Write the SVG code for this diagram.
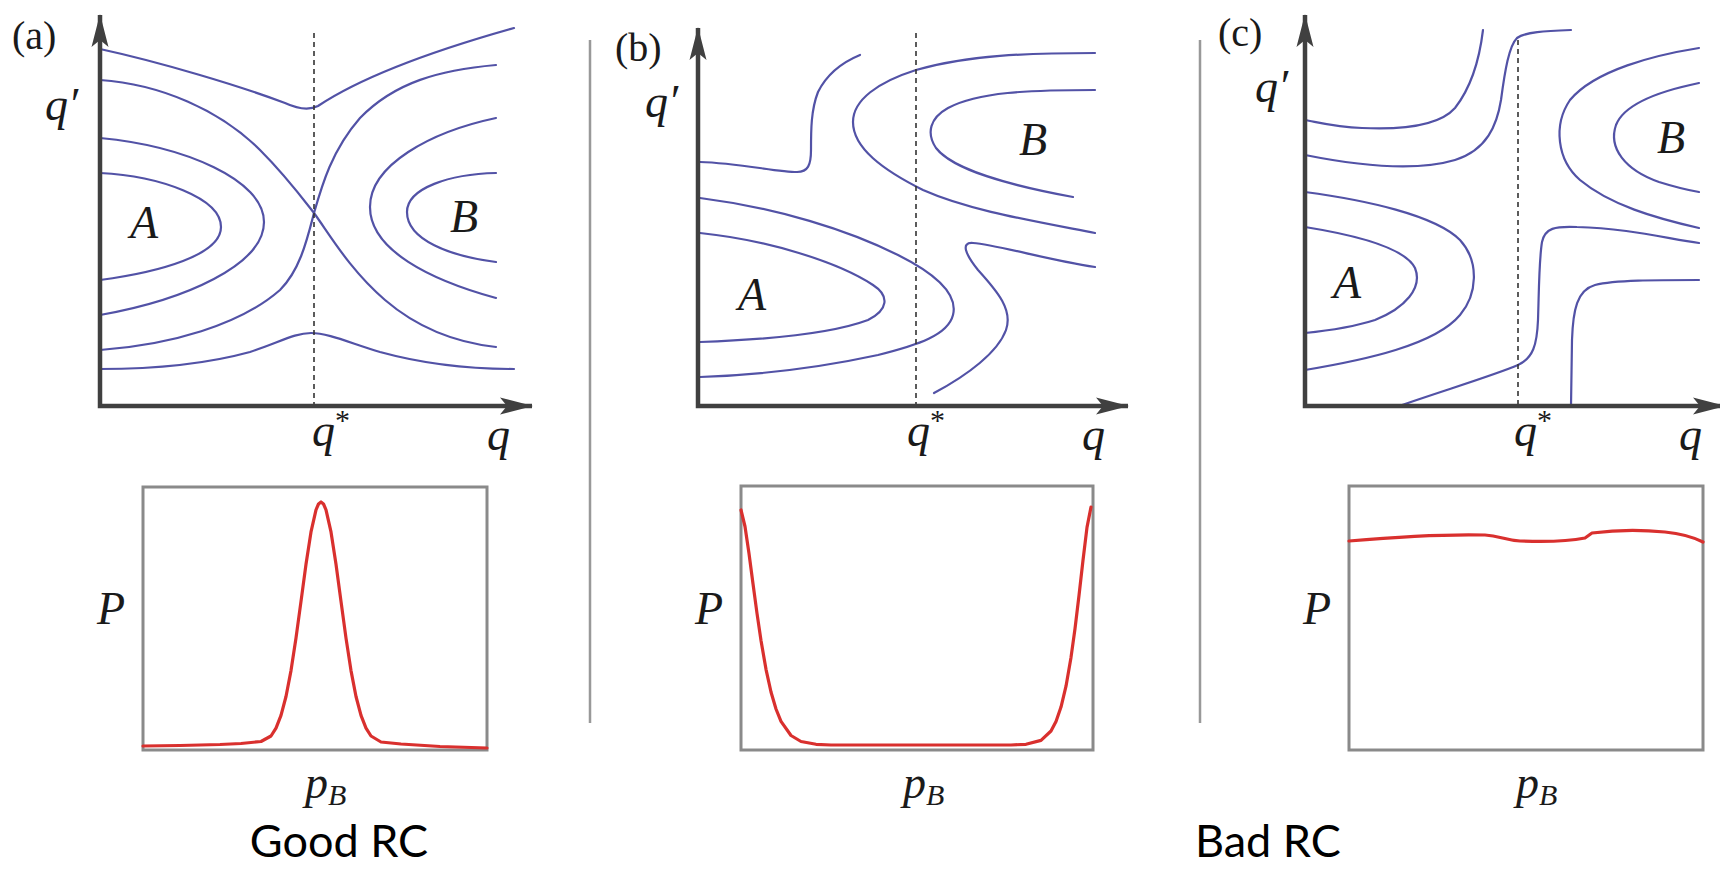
<svg xmlns="http://www.w3.org/2000/svg" width="1720" height="869" viewBox="0 0 1720 869">
<defs>
<style>
.ax{fill:none;stroke:#404040;stroke-width:4.5;stroke-linejoin:miter;marker-start:url(#ah);marker-end:url(#ah)}
.dash{fill:none;stroke:#333;stroke-width:1.6;stroke-dasharray:5 4}
.ct{fill:none;stroke:#5252a6;stroke-width:2.2;stroke-linecap:round}
.box{fill:none;stroke:#8a8a8a;stroke-width:3}
.red{fill:none;stroke:#d9302e;stroke-width:3.2;stroke-linejoin:round;stroke-linecap:round}
.sep{stroke:#999;stroke-width:2.5}
.m{font-family:"Liberation Serif","DejaVu Serif",serif;font-style:italic;fill:#1a1a1a}
.lab{font-family:"Liberation Serif","DejaVu Serif",serif;font-size:40px;fill:#1a1a1a}
.cap{font-family:Lato,"Open Sans",sans-serif;font-size:45px;fill:#000}
</style>
<marker id="ah" viewBox="-34 -11 36 22" refX="0" refY="0" markerWidth="36" markerHeight="22" orient="auto-start-reverse" markerUnits="userSpaceOnUse">
<path d="M1,0 L-32,-8.5 L-25,0 L-32,8.5 Z" fill="#404040"/>
</marker>
</defs>
<rect width="1720" height="869" fill="#fff"/>

<g id="separators">
<line class="sep" x1="590" y1="40" x2="590" y2="723"/>
<line class="sep" x1="1200" y1="40" x2="1200" y2="723"/>
</g>

<text class="lab" x="12" y="49">(a)</text>
<text class="lab" x="615" y="61">(b)</text>
<text class="lab" x="1218" y="46">(c)</text>

<g id="panel-a" transform="translate(100,0)">
<g id="contours-a">
<path class="ct" d="M0,49 C60,62 140,86 185,103 C198,109 210,110 218,106 C245,88 300,60 414,28"/>
<path class="ct" d="M0,80 C60,84 120,110 160,150 C185,175 200,195 214,213 C230,235 250,270 285,300 C320,330 360,343 396,347"/>
<path class="ct" d="M0,350 C70,345 140,325 180,290 C200,270 207,240 214,213 C222,185 232,150 260,118 C295,82 340,70 396,65"/>
<path class="ct" d="M0,138 C85,146 164,180 164,222 C164,265 85,300 0,315"/>
<path class="ct" d="M0,173 C60,176 121,198 121,227 C121,255 60,272 0,280"/>
<path class="ct" d="M396,118 C330,132 270,165 270,207 C270,250 330,280 396,298"/>
<path class="ct" d="M396,173 C350,174 307,188 307,212 C307,240 350,256 396,262"/>
<path class="ct" d="M0,369 C60,369 110,363 150,352 C180,342 195,333 211,333 C228,333 250,343 280,352 C320,363 360,369 414,369"/>
</g>
<line class="dash" x1="214" y1="33" x2="214" y2="406"/>
<path class="ax" d="M0,15 L0,406 L432,406"/>
<text class="m" x="-55" y="120" font-size="46">q′</text>
<text class="m" x="30" y="238" font-size="46">A</text>
<text class="m" x="350" y="232" font-size="46">B</text>
<text class="m" x="212" y="446" font-size="46">q<tspan font-size="30" font-style="normal" dy="-16">*</tspan></text>
<text class="m" x="387" y="450" font-size="46">q</text>
<rect class="box" x="43" y="487" width="344" height="263"/>
<polyline class="red" points="43,746 80,745.5 120,744.5 141,743.5 161,741.5 171,736 176,728.1 181,715.4 186,696.5 191,670.6 196,638.1 201,601.4 206,564.3 211,531.9 216,509.8 218.5,504 221,502 223.5,504 226,509.8 231,531.9 236,564.3 241,601.4 246,638.1 251,670.6 256,696.5 261,715.4 266,728.1 271,736 281,742 301,744 340,746.5 387,748"/>
<text class="m" x="-3" y="624" font-size="46">P</text>
<text class="m" x="205" y="798" font-size="46">p<tspan font-size="30" dy="7">B</tspan></text>
</g>

<g id="panel-b" transform="translate(698,0)">
<g id="contours-b">
<path class="ct" d="M2,162 C40,163 80,172 99,172 C110,172 113,165 113,150 C113,130 113,110 120,92 C130,72 145,62 162,55"/>
<path class="ct" d="M397,53 C330,53 270,55 218,70 C180,82 155,100 155,122 C155,148 185,170 225,190 C270,210 330,220 397,233"/>
<path class="ct" d="M397,90 C330,90 280,92 250,108 C232,118 228,133 238,148 C255,170 310,185 375,197"/>
<path class="ct" d="M2,198 C80,208 150,230 200,255 C240,275 260,295 255,315 C250,335 220,345 180,355 C120,368 60,375 2,377"/>
<path class="ct" d="M2,233 C70,240 140,262 175,285 C192,296 190,310 170,320 C130,335 60,340 2,342"/>
<path class="ct" d="M397,267 C350,260 300,245 275,243 C262,242 268,255 280,270 C300,292 315,310 308,330 C300,352 270,375 236,393"/>
</g>
<line class="dash" x1="218" y1="33" x2="218" y2="406"/>
<path class="ax" d="M0,28 L0,406 L430,406"/>
<text class="m" x="-53" y="117" font-size="46">q′</text>
<text class="m" x="40" y="310" font-size="46">A</text>
<text class="m" x="321" y="155" font-size="46">B</text>
<text class="m" x="209" y="446" font-size="46">q<tspan font-size="30" font-style="normal" dy="-16">*</tspan></text>
<text class="m" x="384" y="450" font-size="46">q</text>
<rect class="box" x="43" y="486" width="352" height="264"/>
<polyline class="red" points="43,510 47,526.5 51,553.6 55,583.8 59,613.4 63,640.6 68,669.3 73,692 78,709 83,721.3 93,735.5 103,741.5 118,744.3 133,745 300,745 313,745 328,744.3 343,740.4 353,731 358,721.5 363,707.1 368,686.2 373,657.4 377,628.7 381,595.5 385,560.2 389,527.4 393,507"/>
<text class="m" x="-3" y="624" font-size="46">P</text>
<text class="m" x="205" y="798" font-size="46">p<tspan font-size="30" dy="7">B</tspan></text>
</g>

<g id="panel-c" transform="translate(1305,0)">
<g id="contours-c">
<path class="ct" d="M178,30 C175,55 168,85 150,108 C135,125 100,130 57,128 C30,127 12,122 0,120"/>
<path class="ct" d="M266,30 C240,31 220,32 212,38 C204,46 200,70 196,100 C192,125 182,150 150,160 C110,172 50,165 0,155"/>
<path class="ct" d="M0,192 C60,200 130,215 155,240 C175,262 172,295 155,315 C130,345 60,360 0,370"/>
<path class="ct" d="M0,227 C50,235 100,248 110,268 C118,288 100,308 70,320 C45,328 20,331 0,333"/>
<path class="ct" d="M394,48 C350,55 290,70 265,100 C248,125 252,160 275,180 C305,205 350,218 394,228"/>
<path class="ct" d="M394,83 C360,90 320,102 311,125 C303,148 320,170 354,182 C370,187 382,190 394,192"/>
<path class="ct" d="M94,406 C140,390 190,375 213,365 C228,358 232,345 233,320 C234,290 234,260 237,242 C240,228 250,226 272,227 C320,228 360,238 394,243"/>
<path class="ct" d="M266,406 L267,340 C268,310 272,290 290,285 C310,280 350,280 394,280"/>
</g>
<line class="dash" x1="213" y1="40" x2="213" y2="406"/>
<path class="ax" d="M0,15 L0,406 L420,406"/>
<text class="m" x="-50" y="102" font-size="46">q′</text>
<text class="m" x="28" y="298" font-size="46">A</text>
<text class="m" x="352" y="153" font-size="46">B</text>
<text class="m" x="209" y="446" font-size="46">q<tspan font-size="30" font-style="normal" dy="-16">*</tspan></text>
<text class="m" x="374" y="450" font-size="46">q</text>
<rect class="box" x="44" y="486" width="354" height="264"/>
<path class="red" d="M44,541 C90,537 140,534 180,535 C195,536 200,540 215,541 C240,542 265,541 280,538 L287,533 C310,530 340,530 360,532 C380,534 390,538 398,542"/>
<text class="m" x="-2" y="624" font-size="46">P</text>
<text class="m" x="211" y="798" font-size="46">p<tspan font-size="30" dy="7">B</tspan></text>
</g>

<g id="captions">
<text class="cap" x="339" y="857" text-anchor="middle">Good RC</text>
<text class="cap" x="1195" y="857">Bad RC</text>
</g>
</svg>
